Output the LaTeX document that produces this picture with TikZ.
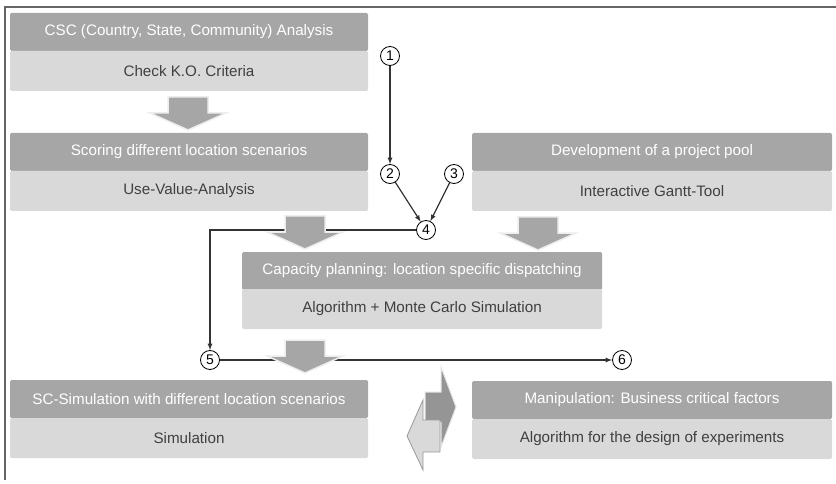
\documentclass[tikz,border=0pt]{standalone}
\usepackage{fontspec}
\setmainfont{Liberation Sans}
\usetikzlibrary{arrows}
\pgfdeclarelayer{edgelayer}
\pgfdeclarelayer{nodelayer}
\pgfsetlayers{edgelayer,nodelayer,main}
\definecolor{headgray}{RGB}{166,166,166}
\definecolor{bodygray}{RGB}{217,217,217}
\definecolor{textgray}{RGB}{64,64,64}
\tikzstyle{step_head}=[rectangle,fill=headgray,text=white,minimum height=38pt,inner sep=0pt,rounded corners=1.5pt,font=\fontsize{15.2}{18}\selectfont]
\tikzstyle{step_body}=[rectangle,fill=bodygray,text=textgray,minimum height=40pt,inner sep=0pt,rounded corners=1.5pt,font=\fontsize{15.2}{18}\selectfont]
\tikzstyle{point}=[circle,fill=white,draw=black,line width=0.8pt,minimum size=19pt,inner sep=0pt,font=\fontsize{14}{14}\selectfont]
\tikzstyle{transition}=[-latex,draw=black!80,line width=1.2pt]
\tikzstyle{block_arrow}=[fill=headgray,draw=white!80!headgray,line width=1.5pt]
\tikzstyle{frame}=[draw=black!60,line width=1.2pt]
\newcommand{\downblock}[2]{%
  \filldraw[block_arrow] (#1-20,#2) -- (#1+20,#2) -- (#1+20,#2+16) -- (#1+38,#2+16)
    -- (#1,#2+33) -- (#1-38,#2+16) -- (#1-20,#2+16) -- cycle;}

\begin{document}
\begin{tikzpicture}[x=1pt,y=-1pt]
	\useasboundingbox (0,0) rectangle (836,484);
	\draw [style=frame] (836,7) -- (5,7) -- (5,480);
	\begin{pgfonlayer}{nodelayer}
		\node [style={step_head}, minimum width=358pt] (csc_head) at (189,32) {CSC (Country, State, Community) Analysis};
		\node [style={step_body}, minimum width=358pt] (csc_body) at (189,71) {Check K.O. Criteria};
		\node [style={step_head}, minimum width=358pt] (score_head) at (189,152) {Scoring different location scenarios};
		\node [style={step_body}, minimum width=358pt] (score_body) at (189,191) {Use-Value-Analysis};
		\node [style={step_head}, minimum width=360pt] (pool_head) at (652,152) {Development of a project pool};
		\node [style={step_body}, minimum width=360pt] (pool_body) at (652,191) {Interactive Gantt-Tool};
		\node [style={step_head}, minimum width=360pt] (cap_head) at (422,271) {Capacity planning: location specific dispatching};
		\node [style={step_body}, minimum width=360pt] (cap_body) at (422,309) {Algorithm + Monte Carlo Simulation};
		\node [style={step_head}, minimum width=358pt] (sim_head) at (189,399) {SC-Simulation with different location scenarios};
		\node [style={step_body}, minimum width=358pt] (sim_body) at (189,438) {Simulation};
		\node [style={step_head}, minimum width=360pt] (man_head) at (652,400) {Manipulation: Business critical factors};
		\node [style={step_body}, minimum width=360pt] (man_body) at (652,439) {Algorithm for the design of experiments};
		\node [style=point] (1) at (390,56) {1};
		\node [style=point] (2) at (390,174) {2};
		\node [style=point] (3) at (454,174) {3};
		\node [style=point] (4) at (426,230) {4};
		\node [style=point] (5) at (210,360) {5};
		\node [style=point] (6) at (622,360) {6};
	\end{pgfonlayer}
	\begin{pgfonlayer}{edgelayer}
		\draw [style=transition] (1) to (2);
		\draw [style=transition] (2) to (4);
		\draw [style=transition] (3) to (4);
		\draw [style=transition] (4) -| (5);
		\draw [style=transition] (5) to (6);
	\end{pgfonlayer}
	% block arrows between the steps
	\downblock{188}{97}
	\downblock{305}{216}
	\downblock{538}{217}
	\downblock{305}{340}
	% exchange between simulation and manipulation
	\filldraw [fill=headgray!90!black, draw=white!70!headgray, line width=1pt]
		(425,392) -- (441,392) -- (441,367) -- (456,407) -- (441,447) -- (441,422) -- (425,422) -- cycle;
	\filldraw [fill=bodygray, draw=black!40, line width=0.8pt]
		(440,420) -- (423,420) -- (423,400) -- (407,436) -- (423,470) -- (423,452) -- (440,452) -- cycle;
\end{tikzpicture}
\end{document}
